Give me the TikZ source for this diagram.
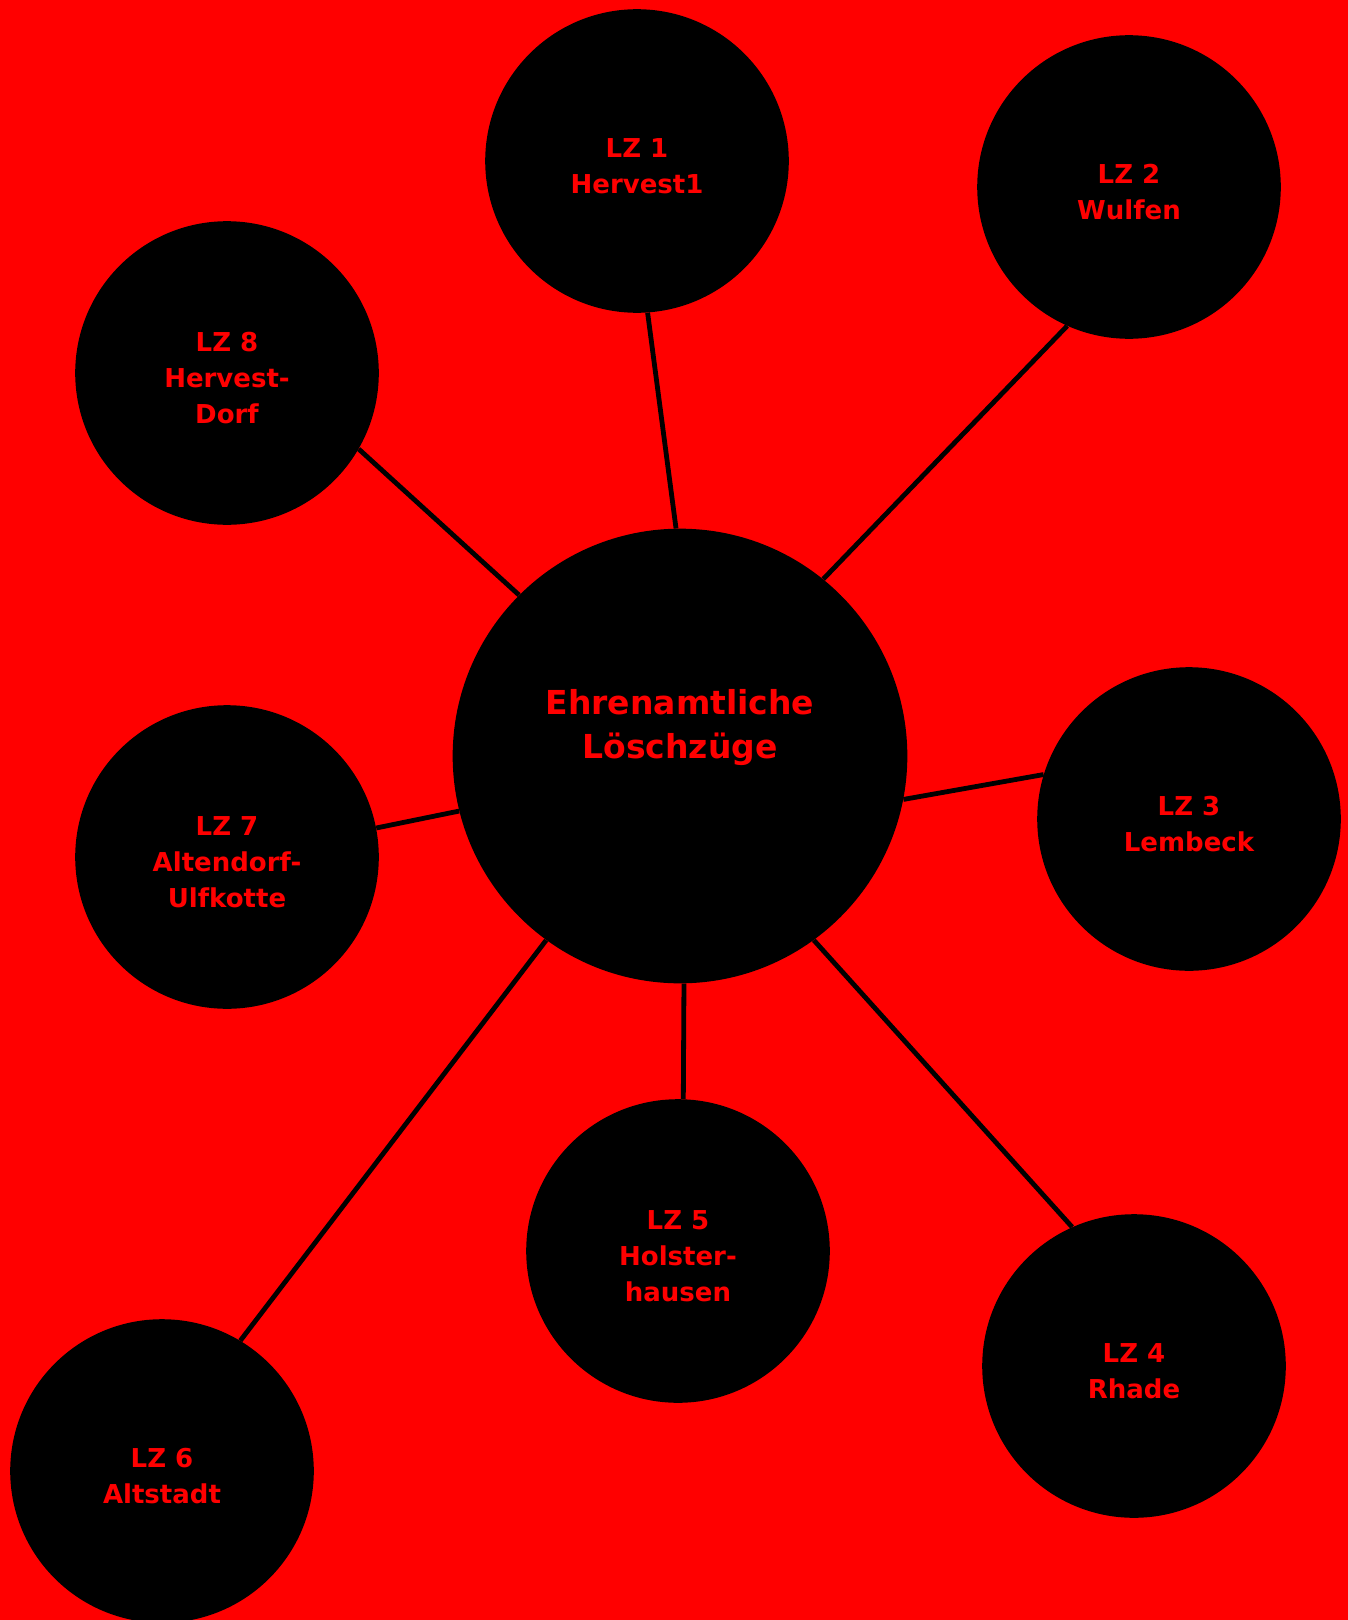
\documentclass[tikz,border=0pt]{standalone}
\usepackage{fontspec}
\setmainfont{DejaVu Sans}
\begin{document}
\begin{tikzpicture}[x=0.75pt,y=-0.75pt,
 lz/.style={circle,fill=black,inner sep=0pt,minimum size=227.7pt},
 hub/.style={circle,fill=black,inner sep=0pt,minimum size=341pt},
 lzt/.style={anchor=north,yshift=-3.8pt,text=red,align=center,inner sep=0pt,font=\fontsize{19.5pt}{27pt}\selectfont\bfseries},
 hubt/.style={anchor=north,yshift=21.3pt,text=red,align=center,inner sep=0pt,font=\fontsize{24.75pt}{32.5pt}\selectfont\bfseries},
 link/.style={line width=3.6pt,draw=black}]
\fill[red] (0,0) rectangle (1348,1620);
\useasboundingbox (0,0) rectangle (1348,1620);
\node[hub,label={[hubt]center:{Ehrenamtliche\\Löschzüge}}] (c) at (680,756) {};
\node[lz,label={[lzt]center:{LZ 1\\Hervest1}}] (l1) at (637,161) {};
\node[lz,label={[lzt]center:{LZ 2\\Wulfen}}] (l2) at (1129,187) {};
\node[lz,label={[lzt]center:{LZ 3\\Lembeck}}] (l3) at (1189,819) {};
\node[lz,label={[lzt]center:{LZ 4\\Rhade}}] (l4) at (1134,1366) {};
\node[lz,label={[lzt]center:{LZ 5\\Holster-\\hausen}}] (l5) at (678,1251) {};
\node[lz,label={[lzt]center:{LZ 6\\Altstadt}}] (l6) at (162,1471) {};
\node[lz,label={[lzt]center:{LZ 7\\Altendorf-\\Ulfkotte}}] (l7) at (227,857) {};
\node[lz,label={[lzt]center:{LZ 8\\Hervest-\\Dorf}}] (l8) at (227,373) {};
\draw[link] (l1.-86.6) -- (c.91.3);
\draw[link] (l2.-114.9) -- (c.51.5);
\draw[link] (l3.163.2) -- (c.-11.5);
\draw[link] (l4.114.3) -- (c.-54.5);
\draw[link] (l5.88.5) -- (c.-89.5);
\draw[link] (l6.59.4) -- (c.234.8);
\draw[link] (l7.11.8) -- (c.194.8);
\draw[link] (l8.-30.3) -- (c.135.9);
\end{tikzpicture}
\end{document}
